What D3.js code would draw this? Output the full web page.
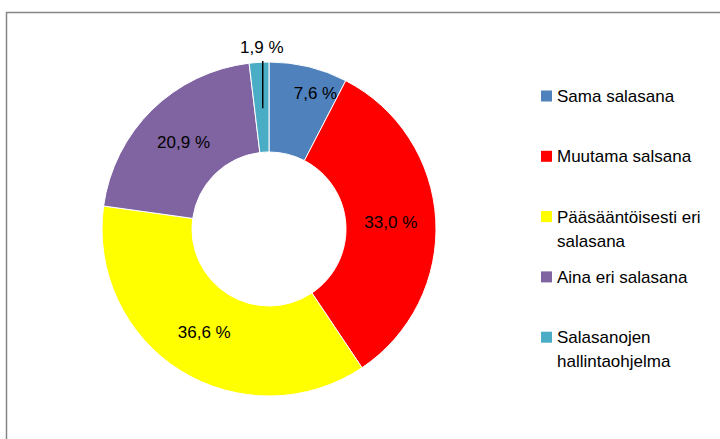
<!DOCTYPE html>
<html>
<head>
<meta charset="utf-8">
<script src="https://cdn.jsdelivr.net/npm/d3@7"></script>
<style>
  body { margin: 0; background: #fff; }
  svg text { font-family: "Liberation Sans", Arial, sans-serif; fill: #000; }
</style>
</head>
<body>
<div id="chart"></div>
<script>
/* data */
const categories = ["Sama salasana", "Muutama salsana", "Pääsääntöisesti eri salasana", "Aina eri salasana", "Salasanojen hallintaohjelma"];
const legendLines = [["Sama salasana"], ["Muutama salsana"], ["Pääsääntöisesti eri", "salasana"], ["Aina eri salasana"], ["Salasanojen", "hallintaohjelma"]];
const values = [7.6, 33.0, 36.6, 20.9, 1.9];
const colors = ["#4F81BD", "#FF0000", "#FFFF00", "#8064A2", "#4BACC6"];

const width = 720, height = 439;
const cx = 269, cy = 229;
const outerR = 167, innerR = 77;
const fmt = v => d3.format(".1f")(v).replace(".", ",") + " %";

const svg = d3.select("#chart").append("svg")
    .attr("width", width)
    .attr("height", height);

/* chart frame (runs off the right and bottom edges) */
svg.append("rect")
    .attr("x", 6.5).attr("y", 12.5)
    .attr("width", 760).attr("height", 460)
    .attr("fill", "none")
    .attr("stroke", "#868686")
    .attr("stroke-width", 1.5);

const pie = d3.pie().sort(null).value(d => d);
const arcs = pie(values);
const arc = d3.arc().innerRadius(innerR).outerRadius(outerR);

const g = svg.append("g").attr("transform", `translate(${cx},${cy})`);

g.selectAll("path.slice").data(arcs).enter()
    .append("path")
    .attr("class", "slice")
    .attr("d", arc)
    .attr("fill", (d, i) => colors[i])
    .attr("stroke", "#fff")
    .attr("stroke-width", 1);

/* data labels: mid-ring by default, first slice pushed outward, last one outside with a leader */
const midR = (innerR + outerR) / 2;
const labelPos = (d, i) => {
    let a = (d.startAngle + d.endAngle) / 2;
    let r = midR;
    if (i === 0) { a = a + 0.09; r = 144; }
    if (i === values.length - 1) { r = 182; a = a + 0.02; }
    return [r * Math.sin(a), -r * Math.cos(a)];
};

g.selectAll("text.lbl").data(arcs).enter()
    .append("text")
    .attr("class", "lbl")
    .attr("x", (d, i) => labelPos(d, i)[0])
    .attr("y", (d, i) => labelPos(d, i)[1])
    .attr("text-anchor", "middle")
    .attr("dy", "0.35em")
    .attr("font-size", 17)
    .text(d => fmt(d.data));

/* leader line for the small slice */
const last = arcs[arcs.length - 1];
const la = (last.startAngle + last.endAngle) / 2;
const lx = midR * Math.sin(la) + 1;
g.append("line")
    .attr("x1", lx).attr("x2", lx)
    .attr("y1", -midR * Math.cos(la) + 1)
    .attr("y2", -outerR - 1)
    .attr("stroke", "#000")
    .attr("stroke-width", 1.5);

/* legend */
const legend = svg.append("g").attr("transform", "translate(541,96)");
const item = legend.selectAll("g.item").data(categories).enter()
    .append("g")
    .attr("class", "item")
    .attr("transform", (d, i) => `translate(0,${i * 60.3})`);

item.append("rect")
    .attr("x", 0).attr("y", -5.5)
    .attr("width", 11).attr("height", 11)
    .attr("fill", (d, i) => colors[i]);

item.append("text")
    .attr("x", 16)
    .attr("font-size", 17)
    .each(function(d, i) {
        const t = d3.select(this);
        legendLines[i].forEach((line, j) => {
            t.append("tspan")
                .attr("x", 16)
                .attr("y", j * 24)
                .attr("dy", "0.35em")
                .text(line);
        });
    });
</script>
</body>
</html>
